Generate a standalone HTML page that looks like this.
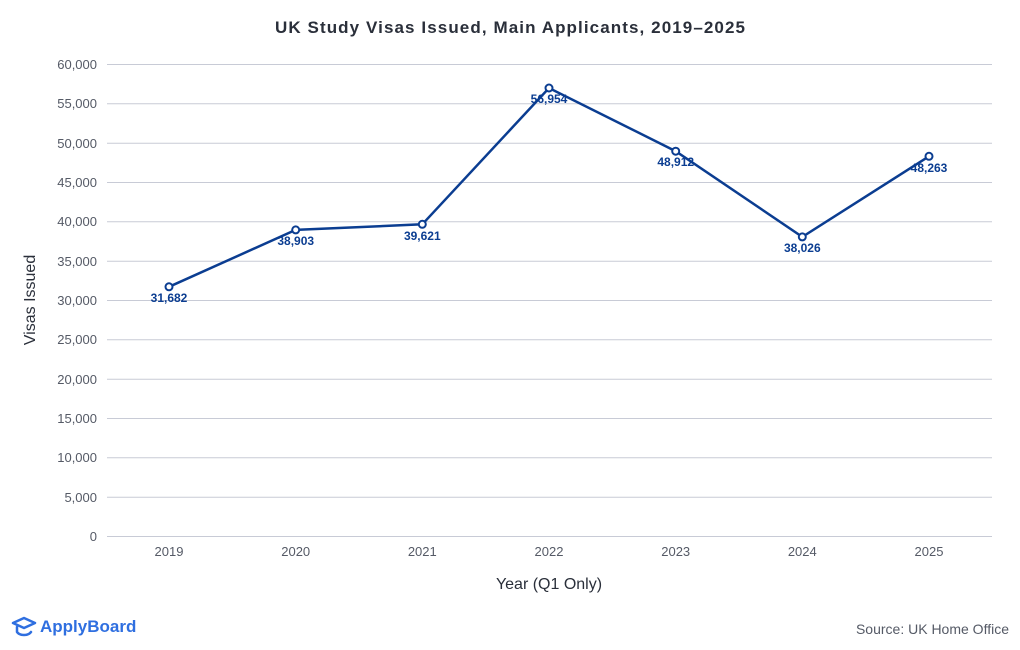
<!DOCTYPE html>
<html><head><meta charset="utf-8"><style>
body{margin:0;background:#fff;}
svg{display:block;font-family:"Liberation Sans",sans-serif;}
</style></head><body>
<svg width="1020" height="650" viewBox="0 0 1020 650" xmlns="http://www.w3.org/2000/svg">
<text x="510" y="33" text-anchor="middle" font-size="17" font-weight="bold" fill="#2a2f3a" textLength="470">UK Study Visas Issued, Main Applicants, 2019–2025</text>
<g stroke="#c8cbd6" stroke-width="1">
<line x1="107" x2="992" y1="64.5" y2="64.5"/><line x1="107" x2="992" y1="103.8" y2="103.8"/><line x1="107" x2="992" y1="143.2" y2="143.2"/><line x1="107" x2="992" y1="182.5" y2="182.5"/><line x1="107" x2="992" y1="221.8" y2="221.8"/><line x1="107" x2="992" y1="261.2" y2="261.2"/><line x1="107" x2="992" y1="300.5" y2="300.5"/><line x1="107" x2="992" y1="339.8" y2="339.8"/><line x1="107" x2="992" y1="379.2" y2="379.2"/><line x1="107" x2="992" y1="418.5" y2="418.5"/><line x1="107" x2="992" y1="457.8" y2="457.8"/><line x1="107" x2="992" y1="497.2" y2="497.2"/><line x1="107" x2="992" y1="536.5" y2="536.5"/>
</g>
<g font-size="13" fill="#555a66" text-anchor="end">
<text x="97" y="69">60,000</text><text x="97" y="108">55,000</text><text x="97" y="148">50,000</text><text x="97" y="187">45,000</text><text x="97" y="226">40,000</text><text x="97" y="266">35,000</text><text x="97" y="305">30,000</text><text x="97" y="344">25,000</text><text x="97" y="384">20,000</text><text x="97" y="423">15,000</text><text x="97" y="462">10,000</text><text x="97" y="502">5,000</text><text x="97" y="541">0</text>
</g>
<g font-size="13" fill="#555a66" text-anchor="middle">
<text x="169" y="556">2019</text><text x="295.7" y="556">2020</text><text x="422.3" y="556">2021</text><text x="549" y="556">2022</text><text x="675.7" y="556">2023</text><text x="802.3" y="556">2024</text><text x="929" y="556">2025</text>
</g>
<text x="549" y="589" text-anchor="middle" font-size="16" fill="#2a2f3a">Year (Q1 Only)</text>
<text transform="translate(35,300) rotate(-90)" text-anchor="middle" font-size="16" fill="#2a2f3a">Visas Issued</text>
<polyline fill="none" stroke="#0b3d91" stroke-width="2.5" points="169,286.8 295.7,229.9 422.3,224.3 549,88 675.7,151.2 802.3,236.9 929,156.3"/>
<g fill="#fff" stroke="#0b3d91" stroke-width="2">
<circle cx="169" cy="286.8" r="3.5"/><circle cx="295.7" cy="229.9" r="3.5"/><circle cx="422.3" cy="224.3" r="3.5"/><circle cx="549" cy="88" r="3.5"/><circle cx="675.7" cy="151.2" r="3.5"/><circle cx="802.3" cy="236.9" r="3.5"/><circle cx="929" cy="156.3" r="3.5"/>
</g>
<g font-size="12" font-weight="bold" fill="#0b3d91" text-anchor="middle">
<text x="169" y="302">31,682</text><text x="295.7" y="245">38,903</text><text x="422.3" y="240">39,621</text><text x="549" y="103">56,954</text><text x="675.7" y="166">48,912</text><text x="802.3" y="252">38,026</text><text x="929" y="172">48,263</text>
</g>
<g transform="translate(12,616)" fill="none" stroke="#2f6fe0" stroke-width="2.5" stroke-linecap="round" stroke-linejoin="round">
<path d="M1,7 L12,2 L23,7 L12,12 Z"/><path d="M5,11 v5 c3,4 11,4 14,0"/>
</g>
<text x="40" y="632" font-size="17" font-weight="bold" fill="#2f6fe0">ApplyBoard</text>
<text x="1009" y="634" text-anchor="end" font-size="14" fill="#555a66">Source: UK Home Office</text>
</svg>
</body></html>
